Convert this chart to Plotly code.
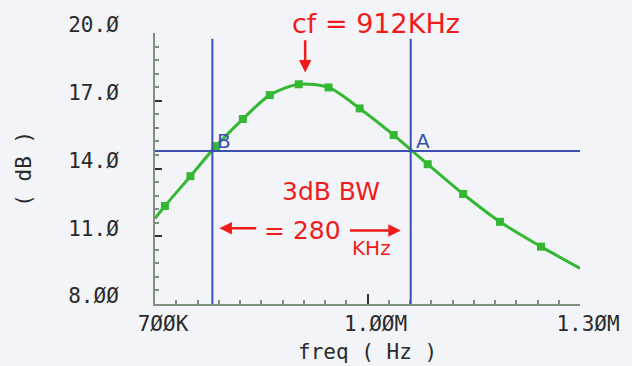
import plotly.graph_objects as go

# ---- data ----
freq_hz = [700e3, 714e3, 750e3, 786e3, 824e3, 862e3, 903e3, 945e3, 989e3,
           1037e3, 1085e3, 1135e3, 1187e3, 1245e3, 1300e3]
gain_db = [11.79, 12.34, 13.66, 14.99, 16.19, 17.25, 17.73, 17.59, 16.66,
           15.48, 14.19, 12.87, 11.64, 10.54, 9.58]

cursor_b_hz = 781e3
cursor_a_hz = 1061e3
cursor_db = 14.78
center_freq_hz = 912e3

x_tickvals = [700e3, 1.0e6, 1.3e6]
x_ticktext = ["7ØØK", "1.ØØM", "1.3ØM"]
y_tickvals = [8, 11, 14, 17, 20]
y_ticktext = ["8.ØØ", "11.Ø", "14.Ø", "17.Ø", "20.Ø"]

# ---- styles ----
BG = "#f3f4f7"
GREEN = "#34b834"
BLUE = "#3c50b4"
RED = "#f01c1c"
AXIS = "#7d8f7d"
TXT = "#2a2a2a"
MONO = "DejaVu Sans Mono"
TICKFONT = dict(family=MONO, size=21, color=TXT)

fig = go.Figure()
fig.add_trace(go.Scatter(x=freq_hz, y=gain_db, mode="lines",
                         line=dict(color=GREEN, width=3, shape="spline", smoothing=0.8),
                         hoverinfo="skip", showlegend=False))
fig.add_trace(go.Scatter(x=freq_hz[1:-1], y=gain_db[1:-1], mode="markers",
                         marker=dict(color=GREEN, size=8, symbol="square"),
                         showlegend=False))

# cursors
fig.add_shape(type="line", xref="x", yref="y", x0=cursor_b_hz, x1=cursor_b_hz,
              y0=8, y1=19.75, line=dict(color=BLUE, width=2))
fig.add_shape(type="line", xref="x", yref="y", x0=cursor_a_hz, x1=cursor_a_hz,
              y0=8, y1=19.75, line=dict(color=BLUE, width=2))
fig.add_shape(type="line", xref="paper", yref="y", x0=0, x1=1.0,
              y0=cursor_db, y1=cursor_db, line=dict(color=BLUE, width=2))

ann = []
ann.append(dict(x=cursor_b_hz, y=cursor_db, text="B", showarrow=False, xanchor="left",
                yanchor="bottom", xshift=3, yshift=-4,
                font=dict(family="DejaVu Sans", size=20, color=BLUE)))
ann.append(dict(x=cursor_a_hz, y=cursor_db, text="A", showarrow=False, xanchor="left",
                yanchor="bottom", xshift=3, yshift=-4,
                font=dict(family="DejaVu Sans", size=20, color=BLUE)))

# handwritten-style red notes
ann.append(dict(xref="paper", yref="paper", x=0.318, y=1.1, text="cf = 912KHz",
                showarrow=False, xanchor="left", yanchor="top",
                font=dict(family="DejaVu Sans", size=27, color=RED)))
ann.append(dict(x=center_freq_hz, y=18.25, ax=center_freq_hz, ay=19.75, axref="x", ayref="y",
                text="", showarrow=True, arrowhead=2, arrowsize=1, arrowwidth=2.5,
                arrowcolor=RED))
ann.append(dict(x=949e3, y=12.96, text="3dB BW", showarrow=False,
                font=dict(family="DejaVu Sans", size=25, color=RED)))
ann.append(dict(x=908e3, y=11.25, text="= 280", showarrow=False,
                font=dict(family="DejaVu Sans", size=25, color=RED)))
ann.append(dict(x=1005e3, y=10.5, text="KHz", showarrow=False,
                font=dict(family="DejaVu Sans", size=20, color=RED)))
ann.append(dict(x=791e3, y=11.35, ax=845e3, ay=11.35, axref="x", ayref="y", text="",
                showarrow=True, arrowhead=2, arrowsize=1, arrowwidth=2.5, arrowcolor=RED))
ann.append(dict(x=1047e3, y=11.25, ax=973e3, ay=11.25, axref="x", ayref="y", text="",
                showarrow=True, arrowhead=2, arrowsize=1, arrowwidth=2.5, arrowcolor=RED))

# axis titles
ann.append(dict(xref="paper", yref="paper", x=0.5, y=-0.177, text="freq ( Hz )",
                showarrow=False, xanchor="center", yanchor="middle",
                font=dict(family=MONO, size=21, color=TXT)))
ann.append(dict(xref="paper", yref="paper", x=-0.31, y=0.5, text="( dB )", textangle=-90,
                showarrow=False, xanchor="center", yanchor="middle",
                font=dict(family=MONO, size=21, color=TXT)))

fig.update_layout(
    width=632, height=366,
    margin=dict(l=155, r=48, t=33, b=62),
    paper_bgcolor=BG, plot_bgcolor=BG,
    annotations=ann,
    xaxis=dict(range=[700e3, 1300e3], tickvals=x_tickvals, ticktext=x_ticktext,
               showgrid=False, zeroline=False, showline=True, linecolor=AXIS, linewidth=2,
               ticks="inside", ticklen=10, tickwidth=2, tickcolor="#303030",
               tickfont=TICKFONT, ticklabelshift=8, ticklabelstandoff=0,
               minor=dict(tick0=700e3, dtick=30e3, ticks="inside", ticklen=4,
                          tickwidth=1.5, tickcolor=AXIS, showgrid=False)),
    yaxis=dict(range=[8, 20], tickvals=y_tickvals, ticktext=y_ticktext,
               showgrid=False, zeroline=False, showline=True, linecolor=AXIS, linewidth=2,
               ticks="inside", ticklen=7, tickwidth=2, tickcolor="#303030",
               tickfont=TICKFONT, ticklabelshift=-8, ticklabelstandoff=30,
               minor=dict(tick0=8, dtick=0.6, ticks="inside", ticklen=4,
                          tickwidth=1.5, tickcolor=AXIS, showgrid=False)),
)

fig.write_html("out.html")
